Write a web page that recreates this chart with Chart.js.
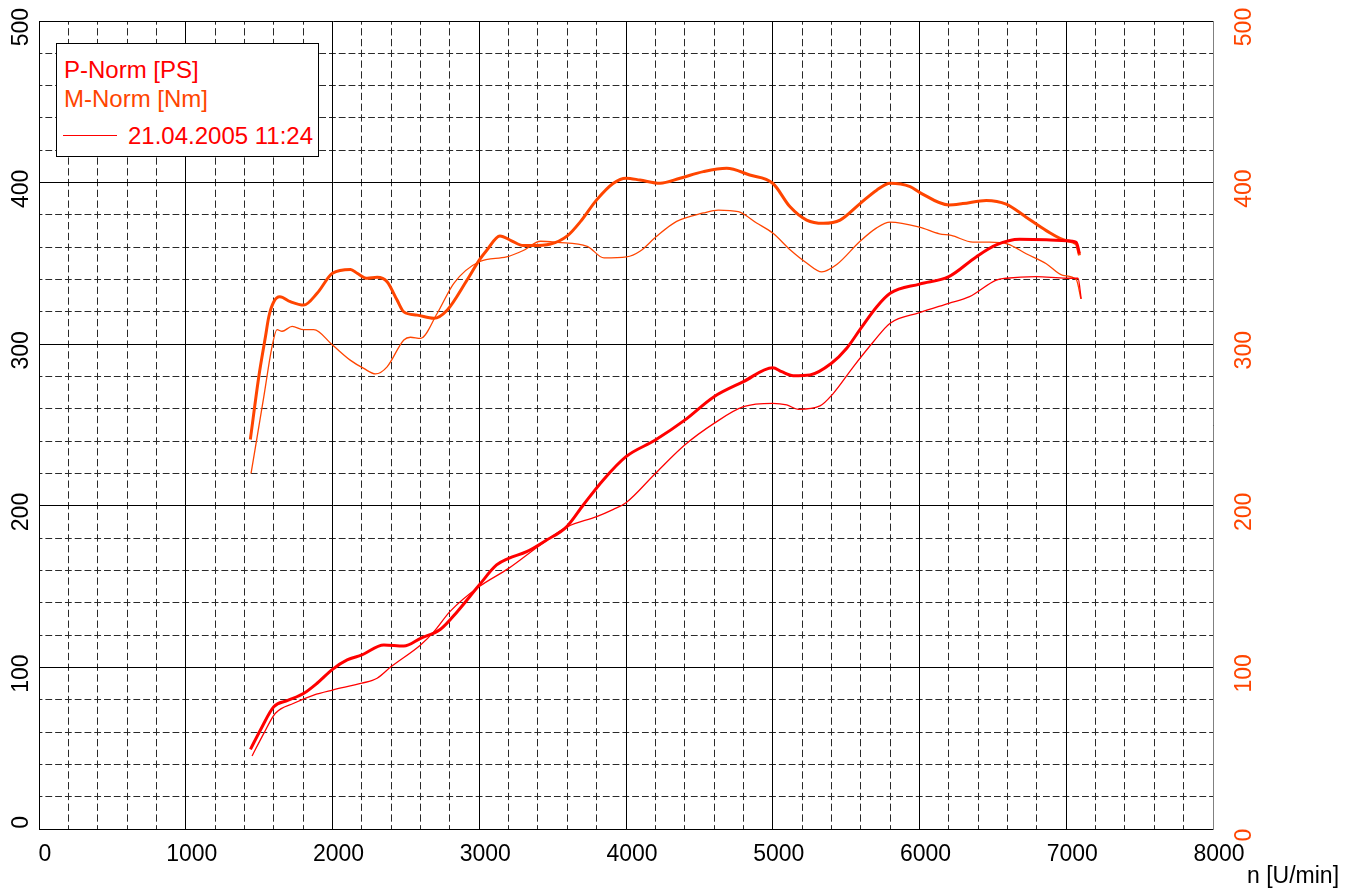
<!DOCTYPE html>
<html>
<head>
<meta charset="utf-8">
<script src="https://cdn.jsdelivr.net/npm/chart.js@4/dist/chart.umd.min.js"></script>
<style>
  html, body { margin: 0; padding: 0; background: #fff; }
  #wrap { position: relative; width: 1355px; height: 889px; }
  canvas { position: absolute; left: 0; top: 0; }
  .txt { position: absolute; font-family: "Liberation Sans", Arial, sans-serif; white-space: nowrap; }
  #legendBox { position: absolute; left: 56px; top: 43px; width: 261px; height: 112px; border: 1px solid #000; background: #fff; }
</style>
</head>
<body>
<div id="wrap">
  <canvas id="c" width="1355" height="889"></canvas>
  <div id="legendBox"></div>
  <div class="txt" style="left:64px;top:58px;font-size:24px;line-height:24px;color:#ff0000;">P-Norm [PS]</div>
  <div class="txt" style="left:64px;top:87px;font-size:24px;line-height:24px;color:#ff4500;">M-Norm [Nm]</div>
  <div style="position:absolute;left:63px;top:135px;width:54px;height:1px;background:#ff0000;"></div>
  <div class="txt" style="left:128px;top:124px;font-size:24px;line-height:24px;color:#ff0000;">21.04.2005 11:24</div>
  <div class="txt" style="left:1247px;top:864px;font-size:23px;line-height:23px;color:#000;">n [U/min]</div>
</div>
<script>
// ---- data (rpm / value) ----
const pNormRpm = [1441,1509,1600,1691,1805,1895,2000,2100,2200,2350,2486,2600,2736,2850,3000,3118,3200,3323,3459,3595,3709,3845,4000,4200,4400,4600,4800,5000,5061,5140,5254,5400,5504,5600,5709,5800,6000,6200,6386,6523,6682,6864,7000,7068,7090];
const pNormVal = [49.3,61.3,75.7,79.4,84,90.2,98.8,104.6,107.7,113.9,113.2,118,123.6,134.5,151,163.4,167.5,171.6,178.8,187,200.5,216,230.4,240.7,253,267.5,276.8,285.5,283,280.5,281,288.2,297.5,309.8,323.2,331.5,337.2,341.8,354,361.4,364.9,364.6,364,363,356];

const mNormRpm = [1440,1498,1543,1566,1600,1641,1713,1804,1895,2000,2123,2168,2236,2304,2372,2440,2486,2577,2690,2781,2917,3000,3050,3141,3220,3300,3350,3486,3600,3691,3800,3914,4000,4095,4232,4368,4527,4686,4843,5000,5118,5231,5345,5459,5595,5708,5800,5936,6000,6200,6295,6455,6591,6727,6864,7000,7068,7090];
const mNormVal = [241,280,304.6,317,326.3,329.4,326.3,324.2,331.5,343.9,346.3,343.9,340.8,341.4,338.7,327.3,320,318,316,321,339.7,352,358,367,364,361,361,362,367,376,389.3,399.6,402.7,401.6,399.6,402.7,406.8,408.9,404.7,399.6,385,376.8,374.8,376.8,387,395.3,399.6,397.5,394,386.2,387,389,386.7,378.6,370.3,364.1,362,355];

const pRunRpm = [1452,1532,1611,1736,1872,2000,2200,2304,2400,2600,2690,2800,3000,3200,3400,3600,3800,3914,4000,4200,4400,4600,4800,5000,5095,5175,5322,5413,5549,5686,5800,6000,6200,6341,6523,6591,6795,7000,7080,7102];
const pRunVal = [45.2,59.2,71.6,77.8,82.9,86,90.2,93.3,100.5,113.9,122,134.5,150,161.3,174.7,187,193.3,197.8,201.9,220,237.6,251,261.3,263.4,262.4,259.7,261.8,269.6,286,301.5,313,319.5,325.3,329.4,339.7,340.8,341.8,340.8,340.8,328];

const mRunRpm = [1445,1532,1588,1622,1656,1725,1804,1872,2000,2123,2213,2293,2372,2486,2531,2600,2713,2827,3000,3186,3300,3418,3532,3736,3850,4004,4095,4209,4345,4527,4629,4765,4890,5000,5118,5231,5334,5436,5595,5708,5800,6000,6136,6216,6364,6477,6602,6727,6864,6977,7068,7100];
const mRunVal = [220,267.5,298.5,309,308,311,309,309,299.5,290,285,281.6,286,302.6,304.3,303.6,319,337.7,351,354,358,363.7,363,360.6,353.4,354,357.5,366.8,376,381.2,383,382,375,368.8,358.5,350.3,344.8,349.3,363.7,372,375.5,372.4,368.3,367.3,363.2,363.2,362,356,349.8,342.6,340,328];

const xTickValues = [0,1000,2000,3000,4000,5000,6000,7000,8000];
const yTickValues = [0,100,200,300,400,500];

const pts = (xs, ys) => xs.map((x, i) => ({ x: x, y: ys[i] }));

const RED = '#ff0000';
const ORANGE = '#ff4500';
const FONT = { family: '"Liberation Sans", Arial, sans-serif', size: 23 };
const plain = (v) => String(v);

const zeroPad = (s) => { s.paddingTop = 0; s.paddingBottom = 0; s.paddingLeft = 0; s.paddingRight = 0; };

new Chart(document.getElementById('c'), {
  type: 'line',
  data: {
    datasets: [
      { label: 'P-Norm [PS]', data: pts(pNormRpm, pNormVal), borderColor: RED, borderWidth: 3, xAxisID: 'x', yAxisID: 'y' },
      { label: 'M-Norm [Nm]', data: pts(mNormRpm, mNormVal), borderColor: ORANGE, borderWidth: 3, xAxisID: 'x', yAxisID: 'y2' },
      { label: 'P 21.04.2005 11:24', data: pts(pRunRpm, pRunVal), borderColor: RED, borderWidth: 1.3, xAxisID: 'x', yAxisID: 'y' },
      { label: 'M 21.04.2005 11:24', data: pts(mRunRpm, mRunVal), borderColor: ORANGE, borderWidth: 1.3, xAxisID: 'x', yAxisID: 'y2' }
    ]
  },
  options: {
    responsive: false,
    devicePixelRatio: 1,
    animation: false,
    layout: { padding: { left: 0, top: 21, right: 0, bottom: 0 } },
    elements: {
      point: { radius: 0 },
      line: { cubicInterpolationMode: 'monotone', fill: false }
    },
    plugins: { legend: { display: false }, tooltip: { enabled: false } },
    scales: {
      xm: {
        type: 'linear', position: 'bottom', min: 0, max: 8000,
        ticks: { display: false, stepSize: 200 },
        grid: { drawTicks: false, lineWidth: 1,
          color: (ctx) => (ctx.tick && ctx.tick.value % 1000 === 0) ? 'rgba(0,0,0,0)' : '#2a2a2a' },
        border: { display: false, dash: [7.3, 3.47], dashOffset: 3.6 },
        afterFit: (s) => { s.height = 0; zeroPad(s); }
      },
      ym: {
        type: 'linear', position: 'left', min: 0, max: 500,
        ticks: { display: false, stepSize: 20 },
        grid: { drawTicks: false, lineWidth: 1,
          color: (ctx) => (ctx.tick && ctx.tick.value % 100 === 0) ? 'rgba(0,0,0,0)' : '#2a2a2a' },
        border: { display: false, dash: [6.8, 2.98], dashOffset: 3.4 },
        afterFit: (s) => { s.width = 0; zeroPad(s); }
      },
      x: {
        type: 'linear', position: 'bottom', min: 0, max: 8000,
        afterBuildTicks: (s) => { s.ticks = xTickValues.map(v => ({ value: v })); },
        ticks: { font: FONT, color: '#000', padding: 12,
          labelOffset: (ctx) => (ctx.tick && ctx.tick.value === 0) ? 16 : 6,
          maxRotation: 0, autoSkip: false, callback: plain },
        grid: { drawTicks: false, color: '#000', lineWidth: 1 },
        border: { display: true, color: '#000', width: 1 },
        afterFit: (s) => { s.height = 60; zeroPad(s); }
      },
      y: {
        type: 'linear', position: 'left', min: 0, max: 500,
        afterBuildTicks: (s) => { s.ticks = yTickValues.map(v => ({ value: v })); },
        ticks: { font: FONT, color: '#000', padding: 17, minRotation: 90, maxRotation: 90, crossAlign: 'near', labelOffset: -13, autoSkip: false, callback: plain },
        grid: { drawTicks: false, color: '#000', lineWidth: 1 },
        border: { display: true, color: '#000', width: 1 },
        afterFit: (s) => { s.width = 39; zeroPad(s); }
      },
      y2: {
        type: 'linear', position: 'right', min: 0, max: 500,
        afterBuildTicks: (s) => { s.ticks = yTickValues.map(v => ({ value: v })); },
        ticks: { font: FONT, color: ORANGE, padding: 12, minRotation: 90, maxRotation: 90, crossAlign: 'center',
          labelOffset: (ctx) => (ctx.tick && ctx.tick.value === 0) ? -6 : 6,
          autoSkip: false, callback: plain },
        grid: { display: false, drawTicks: false },
        border: { display: true, color: '#808080', width: 1 },
        afterFit: (s) => { s.width = 142; zeroPad(s); }
      }
    }
  }
});
</script>
</body>
</html>
